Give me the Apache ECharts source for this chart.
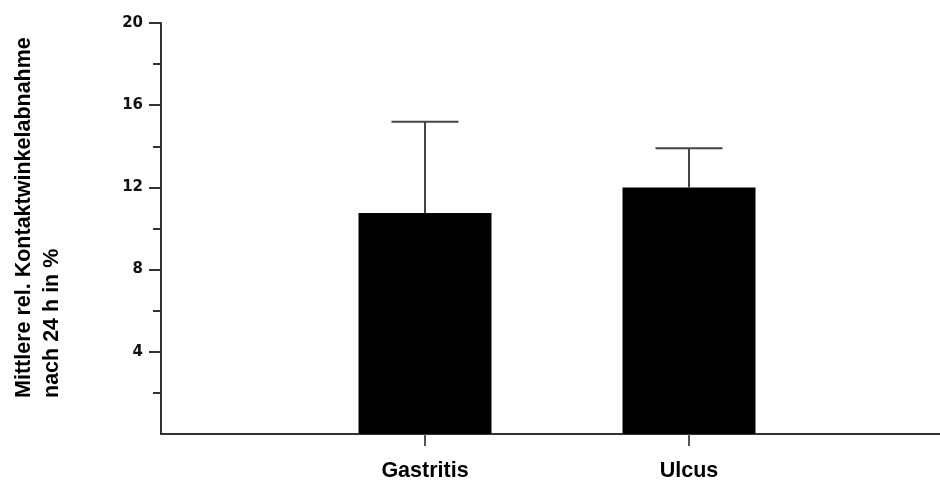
<!DOCTYPE html>
<html>
<head>
<meta charset="utf-8">
<title>Kontaktwinkelabnahme</title>
<script src="https://cdn.jsdelivr.net/npm/echarts@6/dist/echarts.min.js"></script>
<style>
  html, body { margin: 0; padding: 0; background: #fff; }
  #chart { width: 940px; height: 480px; }
</style>
</head>
<body>
<div id="chart"></div>
<script>
// Groups and their mean relative contact-angle decrease (%) with standard deviation
const categories = ['Gastritis', 'Ulcus'];
const means = [10.75, 12.0];
const deviations = [4.45, 1.9];
const yTicks = [0, 4, 8, 12, 16, 20];

// Empty slots at both ends put the two groups at 1/3 and 2/3 of the axis
const axisCategories = [''].concat(categories, ['']);
const barData = means.map((m, i) => [i + 1, m]);
const errorData = means.map((m, i) => [i + 1, m, m + deviations[i]]);
// The zero tick sits in the corner where both axes meet, so it is left out
const yMarkedTicks = yTicks.slice(1);

const axisColor = '#333';
const chart = echarts.init(document.getElementById('chart'));

chart.setOption({
  backgroundColor: '#fff',
  animation: false,
  grid: { left: 161, width: 792, top: 23, bottom: 46, containLabel: false, outerBoundsMode: 'none' },
  xAxis: {
    type: 'category',
    data: axisCategories,
    boundaryGap: false,
    axisLine: { show: true, lineStyle: { color: axisColor, width: 2 } },
    axisTick: {
      show: true,
      length: 12,
      lineStyle: { color: '#555', width: 2 },
      interval: (idx) => idx >= 1 && idx <= categories.length
    },
    axisLabel: {
      interval: 0,
      margin: 26,
      color: '#000',
      fontFamily: 'Liberation Sans, Arial, sans-serif',
      fontWeight: 'bold',
      fontSize: 21.5
    },
    splitLine: { show: false }
  },
  yAxis: {
    type: 'value',
    min: yTicks[0],
    max: yTicks[yTicks.length - 1],
    interval: yTicks[1] - yTicks[0],
    axisLine: { show: true, lineStyle: { color: axisColor, width: 2 } },
    axisTick: {
      show: true,
      length: 12,
      customValues: yMarkedTicks,
      lineStyle: { color: axisColor, width: 2 }
    },
    minorTick: { show: true, splitNumber: 2, length: 8, lineStyle: { color: axisColor, width: 2 } },
    axisLabel: {
      margin: 18,
      customValues: yMarkedTicks,
      color: '#111',
      fontFamily: 'DejaVu Sans, sans-serif',
      fontWeight: 'bold',
      fontSize: 15
    },
    splitLine: { show: false },
    minorSplitLine: { show: false }
  },
  graphic: [{
    type: 'text',
    x: 10,
    y: 398,
    rotation: Math.PI / 2,
    style: {
      text: 'Mittlere rel. Kontaktwinkelabnahme\nnach 24 h in %',
      fill: '#000',
      font: 'bold 21.5px "Liberation Sans", Arial, sans-serif',
      lineHeight: 28,
      textAlign: 'left',
      textVerticalAlign: 'top'
    }
  }],
  series: [
    {
      type: 'bar',
      data: barData,
      barWidth: 133,
      itemStyle: { color: '#000' },
      z: 2
    },
    {
      type: 'custom',
      data: errorData,
      z: 3,
      renderItem: function (params, api) {
        const x = api.value(0);
        const base = api.coord([x, api.value(1)]);
        const top = api.coord([x, api.value(2)]);
        const half = 33.5;
        const style = { stroke: '#444', lineWidth: 2 };
        return {
          type: 'group',
          children: [
            { type: 'line', shape: { x1: base[0], y1: base[1], x2: top[0], y2: top[1] }, style: style },
            { type: 'line', shape: { x1: top[0] - half, y1: top[1], x2: top[0] + half, y2: top[1] }, style: style }
          ]
        };
      }
    }
  ]
});
</script>
</body>
</html>
